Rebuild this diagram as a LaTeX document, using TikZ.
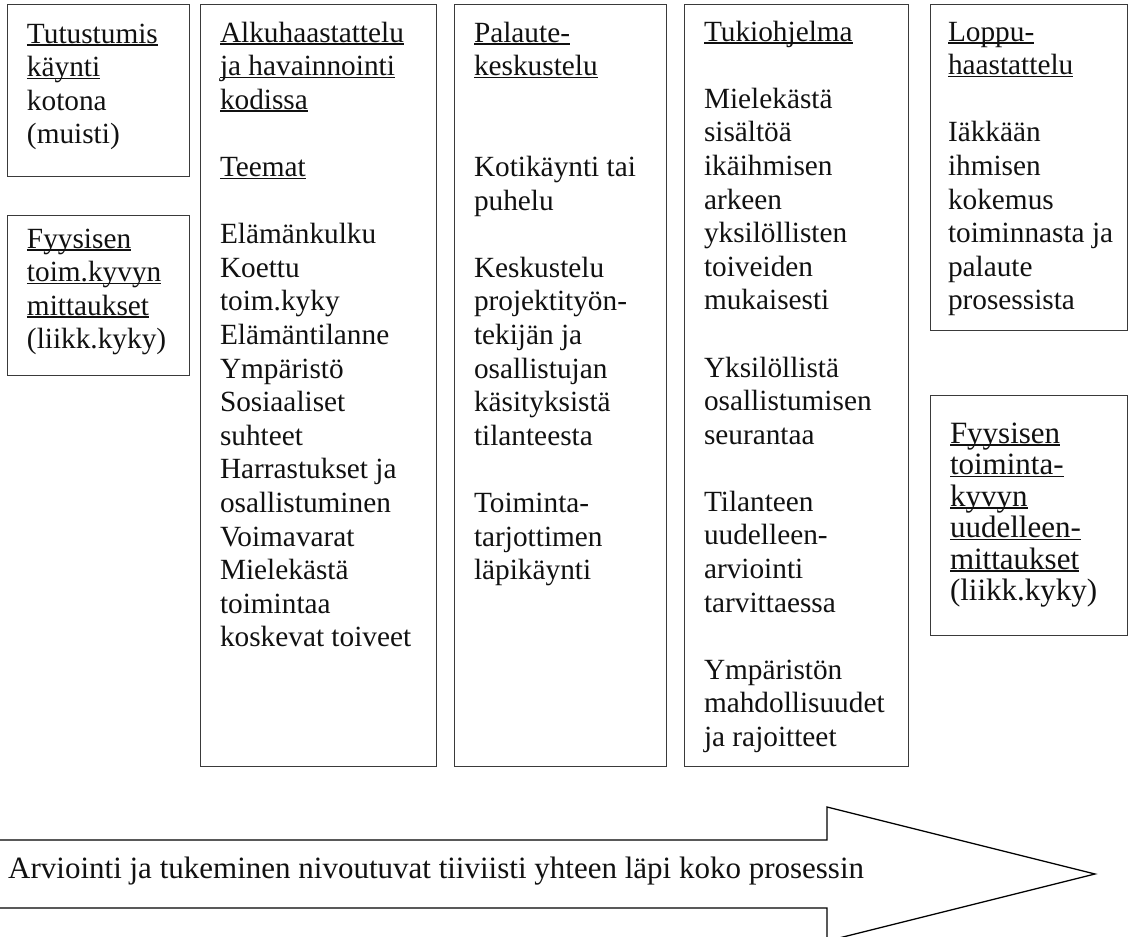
\documentclass[tikz,border=0pt]{standalone}
\usepackage{fontspec}
\setmainfont{Liberation Serif}
\definecolor{ink}{HTML}{111111}
\definecolor{frame}{HTML}{3A3A3A}
\newcommand{\ulined}[1]{\leavevmode\setbox0\hbox{#1}\rlap{\rule[-0.09em]{\wd0}{0.05em}}\box0}

\begin{document}
\begin{tikzpicture}[
  x=1pt, y=-1pt,
  text=ink,
  stage/.style={draw=frame, line width=1pt, anchor=north west, align=left,
    inner xsep=20pt, inner ysep=0pt, outer sep=0pt,
    font=\fontsize{29.3}{33.6}\selectfont,
    execute at begin node={\spaceskip=0.25em plus 0.05em\relax}},
  flow/.style={draw=black, line width=1.3pt, line join=miter}
]
  \useasboundingbox (0,0) rectangle (1133,937);
  \node[stage, text width=142pt, text height=39pt, text depth=133pt] (visit) at (7,4) {
    \ulined{Tutustumis}\\
    \ulined{käynti}\\
    kotona\\
    (muisti)
  };
  \node[stage, text width=142pt, text height=33pt, text depth=127pt] (measure) at (7,215) {
    \ulined{Fyysisen}\\
    \ulined{toim.kyvyn}\\
    \ulined{mittaukset}\\
    (liikk.kyky)
  };
  \node[stage, text width=196pt, text height=38pt, text depth=724pt] (interview) at (200,4) {
    \ulined{Alkuhaastattelu}\\
    \ulined{ja havainnointi}\\
    \ulined{kodissa}\\[\baselineskip]
    \ulined{Teemat}\\[\baselineskip]
    Elämänkulku\\
    Koettu\\
    toim.kyky\\
    Elämäntilanne\\
    Ympäristö\\
    Sosiaaliset\\
    suhteet\\
    Harrastukset ja\\
    osallistuminen\\
    Voimavarat\\
    Mielekästä\\
    toimintaa\\
    koskevat toiveet
  };
  \node[stage, text width=172pt, text height=38pt, text depth=724pt] (feedback) at (454,4) {
    \ulined{Palaute-}\\
    \ulined{keskustelu}\\[2\baselineskip]
    Kotikäynti tai\\
    puhelu\\[\baselineskip]
    Keskustelu\\
    projektityön-\\
    tekijän ja\\
    osallistujan\\
    käsityksistä\\
    tilanteesta\\[\baselineskip]
    Toiminta-\\
    tarjottimen\\
    läpikäynti
  };
  \node[stage, text width=184pt, text height=37pt, text depth=725pt] (support) at (684,4) {
    \ulined{Tukiohjelma}\\[\baselineskip]
    Mielekästä\\
    sisältöä\\
    ikäihmisen\\
    arkeen\\
    yksilöllisten\\
    toiveiden\\
    mukaisesti\\[\baselineskip]
    Yksilöllistä\\
    osallistumisen\\
    seurantaa\\[\baselineskip]
    Tilanteen\\
    uudelleen-\\
    arviointi\\
    tarvittaessa\\[\baselineskip]
    Ympäristön\\
    \mbox{mahdollisuudet}\\
    ja rajoitteet
  };
  \node[stage, inner xsep=18pt, text width=161pt, text height=37pt, text depth=289pt] (final) at (930,4) {
    \ulined{Loppu-}\\
    \ulined{haastattelu}\\[\baselineskip]
    Iäkkään\\
    ihmisen\\
    kokemus\\
    \mbox{toiminnasta ja}\\
    palaute\\
    prosessista
  };
  \node[stage, text width=157pt, text height=48pt, text depth=192pt,
    font=\fontsize{31}{31.5}\selectfont] (remeasure) at (930,395) {
    \ulined{Fyysisen}\\
    \ulined{toiminta-}\\
    \ulined{kyvyn}\\
    \ulined{uudelleen-}\\
    \ulined{mittaukset}\\
    (liikk.kyky)
  };
  % process arrow along the bottom
  \draw[flow] (-5,840) -- (827,840) -- (827,807) -- (1095,874)
    -- (827,941) -- (827,908) -- (-5,908);
  \node[anchor=base west, inner sep=0pt, font=\fontsize{31}{36}\selectfont] (motto) at (8,878)
    {Arviointi ja tukeminen nivoutuvat tiiviisti yhteen läpi koko prosessin};
\end{tikzpicture}
\end{document}
